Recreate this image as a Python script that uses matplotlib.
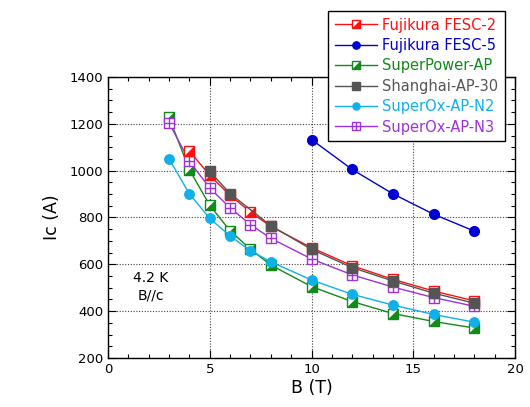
import matplotlib
matplotlib.use("Agg")
import matplotlib.pyplot as plt
from matplotlib.path import Path
from matplotlib.ticker import MultipleLocator

plt.rcParams['font.family'] = ['DejaVu Sans']

# ---- data ----
B_fesc2 = [4, 5, 6, 7, 8, 10, 12, 14, 16, 18]
Ic_fesc2 = [1084, 980, 895, 823, 762, 671, 594, 536, 486, 444]

B_fesc5 = [10, 12, 14, 16, 18]
Ic_fesc5 = [1133, 1005, 901, 814, 742]

B_sp = [3, 4, 5, 6, 7, 8, 10, 12, 14, 16, 18]
Ic_sp = [1228, 1004, 852, 743, 665, 597, 505, 441, 390, 356, 328]

B_sh = [5, 6, 8, 10, 12, 14, 16, 18]
Ic_sh = [997, 902, 765, 664, 586, 529, 477, 434]

B_n2 = [3, 4, 5, 6, 7, 8, 10, 12, 14, 16, 18]
Ic_n2 = [1051, 901, 796, 721, 658, 611, 533, 472, 426, 386, 353]

B_n3 = [3, 4, 5, 6, 7, 8, 10, 12, 14, 16, 18]
Ic_n3 = [1204, 1040, 926, 841, 770, 711, 623, 555, 503, 458, 421]

labels = ["Fujikura FESC-2", "Fujikura FESC-5", "SuperPower-AP",
          "Shanghai-AP-30", "SuperOx-AP-N2", "SuperOx-AP-N3"]

c_red = '#ff1010'
c_blue = '#0000d0'
c_green = '#118a1a'
c_gray = '#555555'
c_cyan = '#10b0e8'
c_purple = '#a030d8'

fig = plt.figure(figsize=(5.30, 4.07), dpi=100)
ax = fig.add_axes([108/530, 1-358/407, (515-108)/530, (358-77)/407])

tri = Path([(-1, -1), (1, -1), (1, 1), (-1, -1)],
           [Path.MOVETO, Path.LINETO, Path.LINETO, Path.CLOSEPOLY])
ms = 7.5
lw = 1.0

def half_square(x, y, color, z):
    l1, = ax.plot(x, y, '-', color=color, lw=lw, marker='s', ms=ms,
                  mfc='white', mec=color, mew=1.0, zorder=z)
    l2, = ax.plot(x, y, ls='none', marker=tri, ms=ms, mfc=color,
                  mec=color, mew=0.5, zorder=z + 0.1)
    return (l1, l2)

h_sp = half_square(B_sp, Ic_sp, c_green, 3)
h_n2, = ax.plot(B_n2, Ic_n2, '-', color=c_cyan, lw=lw, marker='o', ms=6.8,
                mfc=c_cyan, mec=c_cyan, zorder=4)
p1, = ax.plot(B_n3, Ic_n3, '-', color=c_purple, lw=lw, marker='s', ms=6.8,
              mfc='white', mec=c_purple, mew=1.0, zorder=5)
p2, = ax.plot(B_n3, Ic_n3, ls='none', marker='+', ms=6.8, mec=c_purple,
              mew=1.0, zorder=5.1)
h_n3 = (p1, p2)
h_f2 = half_square(B_fesc2, Ic_fesc2, c_red, 6)
h_sh, = ax.plot(B_sh, Ic_sh, '-', color=c_gray, lw=lw, marker='s', ms=7,
                mfc=c_gray, mec=c_gray, zorder=7)
h_f5, = ax.plot(B_fesc5, Ic_fesc5, '-', color=c_blue, lw=lw, marker='o',
                ms=7, mfc=c_blue, mec=c_blue, zorder=8)

ax.set_xlim(0, 20)
ax.set_ylim(200, 1400)
ax.xaxis.set_major_locator(MultipleLocator(5))
ax.xaxis.set_minor_locator(MultipleLocator(1))
ax.yaxis.set_major_locator(MultipleLocator(200))
ax.yaxis.set_minor_locator(MultipleLocator(50))
ax.tick_params(which='both', direction='in', top=True, right=True,
               labelsize=9.5, color='black')
ax.tick_params(which='major', length=6, width=0.8)
ax.tick_params(which='minor', length=3, width=0.8)
ax.grid(True, which='major', color='#444444', ls=(0, (1, 1.5)), lw=0.8)
for s in ax.spines.values():
    s.set_linewidth(1.0)

ax.set_xlabel("B (T)", fontsize=12.5, labelpad=2)
ax.set_ylabel("Ic (A)", fontsize=12.5, labelpad=6)

ax.text(2.1, 505, "4.2 K\nB//c", ha='center', va='center', fontsize=10,
        linespacing=1.3)

handles = [h_f2, h_f5, h_sp, h_sh, h_n2, h_n3]
colors = [c_red, c_blue, c_green, c_gray, c_cyan, c_purple]
leg = fig.legend(handles, labels, loc='upper right',
                 bbox_to_anchor=(505/530, 1-11/407),
                 bbox_transform=fig.transFigure, fontsize=10.5,
                 frameon=True, fancybox=False, edgecolor='black',
                 framealpha=1.0, handlelength=2.9, labelspacing=0.37,
                 borderpad=0.45, handletextpad=0.35, borderaxespad=0,
                 markerscale=0.75)
leg.get_frame().set_linewidth(1.0)
for t, c in zip(leg.get_texts(), colors):
    t.set_color(c)

fig.savefig("out.png", dpi=100)
